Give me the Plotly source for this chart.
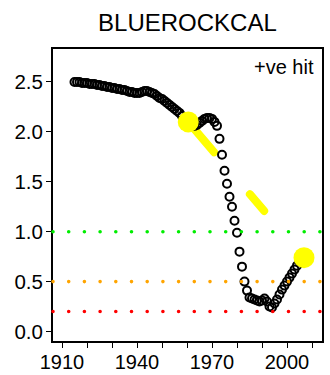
import plotly.graph_objects as go

# Annual series (circles)
years = list(range(1915, 2007))
values = [
    2.50, 2.50, 2.50, 2.49, 2.49, 2.49, 2.48, 2.48, 2.48, 2.47,   # 1915-1924
    2.47, 2.46, 2.46, 2.45, 2.45, 2.44, 2.44, 2.43, 2.43, 2.42,   # 1925-1934
    2.42, 2.41, 2.40, 2.40, 2.39, 2.39, 2.39, 2.40, 2.41, 2.41,   # 1935-1944
    2.40, 2.39, 2.38, 2.36, 2.34, 2.33, 2.31, 2.29, 2.27, 2.25,   # 1945-1954
    2.23, 2.21, 2.19, 2.16, 2.13, 2.11, 2.09, 2.07, 2.06, 2.07,   # 1955-1964
    2.09, 2.11, 2.13, 2.14, 2.14, 2.13, 2.10, 2.06, 1.93, 1.77,   # 1965-1974
    1.61, 1.48, 1.35, 1.25, 1.11, 0.99, 0.80, 0.65, 0.50, 0.41,   # 1975-1984
    0.34, 0.33, 0.32, 0.31, 0.30, 0.31, 0.33, 0.30, 0.25, 0.24,   # 1985-1994
    0.28, 0.32, 0.37, 0.42, 0.46, 0.50, 0.54, 0.58, 0.62, 0.66,   # 1995-2004
    0.70, 0.73,                                                   # 2005-2006
]

# Highlighted hit points
hit_years = [1960.5, 2006.8]
hit_values = [2.10, 0.74]

# Reference levels
ref_levels = [1.0, 0.5, 0.2]
ref_colors = ["#00EE00", "#FFA500", "#FF0000"]

x_range = [1906.4, 2014.0]
y_range = [-0.095, 2.83]
x_ticks = list(range(1910, 2011, 10))
x_labels = [str(t) if t in (1910, 1940, 1970, 2000) else "" for t in x_ticks]
y_ticks = [0.0, 0.5, 1.0, 1.5, 2.0, 2.5]
y_labels = [f"{t:.1f}" for t in y_ticks]

FONT = "Liberation Sans, Arial, sans-serif"

fig = go.Figure()

# dashed connector between the two hits
fig.add_trace(go.Scatter(
    x=hit_years, y=hit_values, mode="lines",
    line=dict(color="#FFFF00", width=8, dash="40px,55px,22px,200px"),
    hoverinfo="skip", showlegend=False,
))

fig.add_trace(go.Scatter(
    x=years, y=values, mode="markers",
    marker=dict(symbol="circle-open", size=8, color="black",
                line=dict(width=2, color="black")),
    showlegend=False,
))

fig.add_trace(go.Scatter(
    x=hit_years, y=hit_values, mode="markers",
    marker=dict(symbol="circle", size=21, color="#FFFF00",
                line=dict(width=0)),
    showlegend=False,
))

shapes = []
for lvl, col in zip(ref_levels, ref_colors):
    shapes.append(dict(
        type="line", xref="paper", x0=0, x1=1, yref="y", y0=lvl, y1=lvl,
        line=dict(color=col, width=3.6, dash="0px,15.7px"), layer="above",
    ))

axis_common = dict(
    showgrid=False, zeroline=False, showline=True, mirror=True,
    linecolor="black", linewidth=2, ticks="outside", ticklen=5,
    tickwidth=1, tickcolor="black", automargin=False,
)

fig.update_layout(
    width=330, height=375,
    margin=dict(l=53, r=8, t=49, b=33.5, pad=0),
    paper_bgcolor="white", plot_bgcolor="white",
    title=dict(text="BLUEROCKCAL", x=0.568, xanchor="center",
               y=0.940, yanchor="middle",
               font=dict(family=FONT, size=24, color="black")),
    xaxis=dict(range=x_range, tickvals=x_ticks, ticktext=x_labels,
               ticklabelstandoff=-3,
               tickfont=dict(family=FONT, size=20, color="black"),
               **axis_common),
    yaxis=dict(range=y_range, tickvals=y_ticks, ticktext=y_labels,
               ticklabelstandoff=-1,
               tickfont=dict(family=FONT, size=20.5, color="black"),
               **axis_common),
    shapes=shapes,
    annotations=[dict(
        text="+ve hit", xref="paper", yref="paper", x=1, y=1,
        xanchor="right", yanchor="top", xshift=-6, yshift=-5,
        showarrow=False, font=dict(family=FONT, size=20, color="black"),
    )],
)

# round line caps for the dotted and dashed strokes
post = """
var gd = document.getElementById('{plot_id}');
function roundCaps() {
  gd.querySelectorAll('path.js-line, .shapelayer path').forEach(function (p) {
    p.style.strokeLinecap = 'round';
  });
}
roundCaps();
setTimeout(roundCaps, 50);
if (gd.on) { gd.on('plotly_afterplot', roundCaps); }
"""

fig.write_html("out.html", post_script=post)
